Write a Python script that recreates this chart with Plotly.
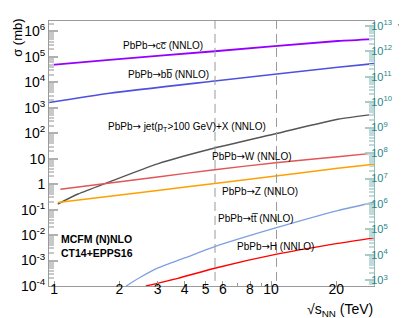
import numpy as np
import plotly.graph_objects as go

# ---------------- data ----------------
E_cc = [0.95, 1.8, 5.5, 20.3, 29.8]
S_cc = [4.7e4, 7.6e4, 1.66e5, 4.2e5, 5.0e5]

E_bb = [0.95, 1.8, 5.5, 20.3, 29.8]
S_bb = [1.6e3, 3.7e3, 1.12e4, 3.9e4, 5.4e4]

E_jet = [1.04, 1.29, 1.77, 3.0, 5.5, 10.5, 20.3, 29.8]
S_jet = [0.166, 0.41, 1.17, 6.3, 26.3, 95.5, 355, 550]

E_W = [1.07, 3.0, 5.5, 10.5, 20.3, 29.8]
S_W = [0.63, 1.9, 3.7, 6.9, 12.0, 16.6]

E_Z = [1.04, 3.0, 5.5, 10.5, 20.3, 29.8]
S_Z = [0.19, 0.56, 1.07, 2.09, 4.2, 6.0]

E_tt = [2.15, 2.5, 3.0, 4.0, 5.5, 10.5, 20.3, 29.8]
S_tt = [1.0e-4, 2.2e-4, 5.0e-4, 1.26e-3, 3.5e-3, 1.9e-2, 9.1e-2, 0.195]

E_H = [2.65, 3.72, 5.5, 10.5, 20.3, 29.8]
S_H = [1.0e-4, 2.0e-4, 5.0e-4, 1.74e-3, 4.7e-3, 7.8e-3]

E_lines = [5.52, 10.6]          # vertical dashed lines
lumi_nb = 6.0                   # L_int = 6 nb^-1, 1 mb = 1e6 nb

x_tickvals = [1, 2, 3, 4, 5, 6, 8, 10, 20]
x_ticktext = ["1", "2", "3", "4", "5", "6", "8", "10", "20"]
y_exps = [-4, -3, -2, -1, 0, 1, 2, 3, 4, 5, 6]
y_ticktext = ["10<sup>-4</sup>", "10<sup>-3</sup>", "10<sup>-2</sup>", "10<sup>-1</sup>",
              "1", "10", "10<sup>2</sup>", "10<sup>3</sup>", "10<sup>4</sup>",
              "10<sup>5</sup>", "10<sup>6</sup>"]
y2_exps = list(range(3, 14))

ARW = "<span style='font-family:DejaVu Sans'>→</span>"
labels = [
    ("PbPb" + ARW + "cc̅ (NNLO)", 113, 35),
    ("PbPb" + ARW + "bb̅ (NNLO)", 118, 64),
    ("PbPb" + ARW + " jet(p<sub>T</sub>>100 GeV)+X (NNLO)", 98, 117.5),
    ("PbPb" + ARW + "W (NNLO)", 202, 146.7),
    ("PbPb" + ARW + "Z (NNLO)", 212, 182.7),
    ("PbPb" + ARW + "tt̅ (NNLO)", 208, 210),
    ("PbPb" + ARW + "H (NNLO)", 227, 238.3),
]

# ---------------- layout geometry ----------------
W, H = 407, 318
L, R, T, B = 41, 41, 10, 40
pw, ph = W - L - R, H - T - B
FONT = "Liberation Sans, Arial, Helvetica, sans-serif"
TEAL = "#2a8585"
AXC = "#9a9a9a"

ylo = -4.0
yhi = ylo + ph / 25.75
xlo = np.log10(0.948)
xhi = xlo + pw / 217.0
shift = np.log10(lumi_nb * 1e6)


def pxx(px):
    return (px - L) / pw


def pxy(py):
    return (H - B - py) / ph


fig = go.Figure()

series = [
    (E_cc, S_cc, "#9400ff", 1.8),
    (E_bb, S_bb, "#4f4fe0", 1.6),
    (E_jet, S_jet, "#555555", 1.4),
    (E_W, S_W, "#e05555", 1.4),
    (E_Z, S_Z, "#ffa000", 1.5),
    (E_tt, S_tt, "#7f9fe0", 1.3),
    (E_H, S_H, "#ff0000", 1.4),
]
for ex, sy, col, lw in series:
    fig.add_trace(go.Scatter(x=ex, y=sy, mode="lines", line=dict(color=col, width=lw, shape="spline", smoothing=0.6),
                             showlegend=False, hoverinfo="skip"))

for e in E_lines:
    fig.add_trace(go.Scatter(x=[e, e], y=[1e-6, 1e8], mode="lines",
                             line=dict(color="#999999", width=1, dash="9px,5px"),
                             showlegend=False, hoverinfo="skip"))

# invisible trace for the right axis
fig.add_trace(go.Scatter(x=[1], y=[1e5], yaxis="y2", mode="markers", marker=dict(opacity=0),
                         showlegend=False, hoverinfo="skip"))

ymin_left = [m * 10.0 ** n for n in range(-4, 7) for m in range(2, 10)]
ymin_right = [m * 10.0 ** n for n in range(2, 14) for m in range(2, 10)]

fig.update_layout(
    width=W, height=H,
    margin=dict(l=L, r=R, t=T, b=B),
    plot_bgcolor="white", paper_bgcolor="white",
    font=dict(family=FONT, color="black"),
    xaxis=dict(type="log", range=[xlo, xhi], showgrid=False, zeroline=False,
               showline=True, linecolor=AXC, linewidth=1, mirror=True,
               tickmode="array", tickvals=x_tickvals, ticktext=x_ticktext,
               ticks="inside", ticklen=5, tickcolor=AXC, tickfont=dict(size=14),
               ticklabelstandoff=-10,
               minor=dict(tickmode="array", tickvals=[7, 9], ticks="inside", ticklen=3, tickcolor=AXC)),
    yaxis=dict(type="log", range=[ylo, yhi], showgrid=False, zeroline=False,
               showline=True, linecolor=AXC, linewidth=1,
               tickmode="array", tickvals=[10.0 ** e for e in y_exps], ticktext=y_ticktext,
               ticks="inside", ticklen=9, tickcolor="#b0b0b0", tickwidth=1.5, tickfont=dict(size=14),
               minor=dict(tickmode="array", tickvals=ymin_left, ticks="inside", ticklen=5,
                          tickcolor="#c8c8c8", tickwidth=1.5)),
    yaxis2=dict(type="log", range=[ylo + shift, yhi + shift], overlaying="y", side="right",
                showgrid=False, zeroline=False, showline=True, linecolor="#8fbcbc", linewidth=1,
                tickmode="array", tickvals=[10.0 ** e for e in y2_exps],
                ticktext=["10<sup>%d</sup>" % e for e in y2_exps],
                ticks="inside", ticklen=9, tickcolor="#a8cccc", tickwidth=1.5,
                tickfont=dict(size=11, color=TEAL), ticklabelstandoff=-6,
                minor=dict(tickmode="array", tickvals=ymin_right, ticks="inside", ticklen=5,
                           tickcolor="#c0dada", tickwidth=1.5)),
)

ann = []
for txt, x0, y0 in labels:
    ann.append(dict(text=txt, x=pxx(x0), y=pxy(y0), xref="paper", yref="paper",
                    xanchor="left", yanchor="middle", showarrow=False,
                    font=dict(size=10, color="black")))
ann.append(dict(text="<b>MCFM (N)NLO</b>", x=pxx(51), y=pxy(230.7), xref="paper", yref="paper",
                xanchor="left", yanchor="middle", showarrow=False, font=dict(size=10.5)))
ann.append(dict(text="<b>CT14+EPPS16</b>", x=pxx(51), y=pxy(245), xref="paper", yref="paper",
                xanchor="left", yanchor="middle", showarrow=False, font=dict(size=10.5)))
# axis titles
ann.append(dict(text="σ (mb)", x=pxx(10), y=pxy(27), xref="paper", yref="paper",
                xanchor="center", yanchor="middle", textangle=-90, showarrow=False,
                font=dict(size=13)))
ann.append(dict(text="√s<sub>NN</sub> (TeV)", x=pxx(367), y=pxy(302), xref="paper", yref="paper",
                xanchor="right", yanchor="middle", showarrow=False, font=dict(size=14)))
ann.append(dict(text="Events at HE-LHC (L<sub>int</sub>=6 nb<sup>-1</sup>)", x=pxx(396.5), y=pxy(87),
                xref="paper", yref="paper", xanchor="center", yanchor="middle", textangle=-90,
                showarrow=False, font=dict(size=11.5, color=TEAL)))
fig.update_layout(annotations=ann)

fig.write_html("out.html")
